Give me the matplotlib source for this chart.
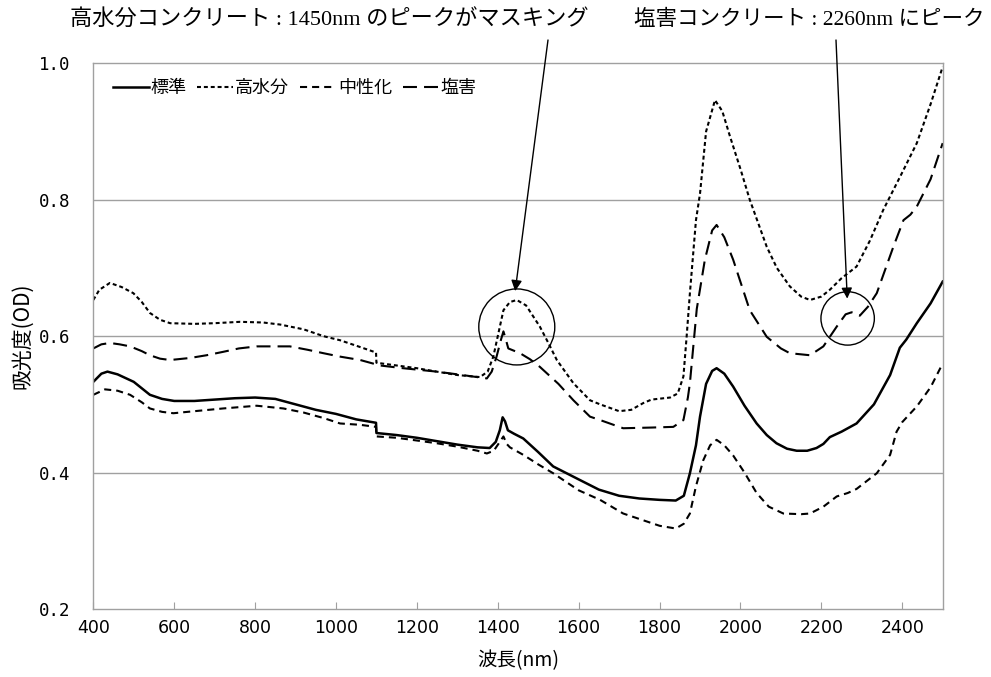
import matplotlib
matplotlib.use("Agg")
import matplotlib.pyplot as plt
from matplotlib.patches import Ellipse

# ---------------- data ----------------
wl_std = [400, 420, 435, 460, 500, 540, 570, 600, 650, 700, 750, 800, 850, 900, 950, 1000, 1050, 1099, 1100,
          1150, 1200, 1250, 1300, 1350, 1380, 1395, 1405, 1412, 1418, 1425, 1440, 1463, 1500, 1537, 1600, 1650,
          1700, 1750, 1800, 1840, 1860, 1875, 1890, 1900, 1915, 1930, 1941, 1960, 1982, 2010, 2040, 2065, 2089,
          2115, 2139, 2165, 2188, 2205, 2221, 2250, 2287, 2330, 2370, 2394, 2410, 2436, 2470, 2500]
ab_std = [0.533, 0.545, 0.548, 0.544, 0.533, 0.514, 0.508, 0.505, 0.505, 0.507, 0.509, 0.510, 0.508, 0.500, 0.492,
          0.486, 0.478, 0.473, 0.458, 0.455, 0.451, 0.446, 0.441, 0.437, 0.436, 0.445, 0.462, 0.481, 0.475, 0.462,
          0.457, 0.450, 0.430, 0.409, 0.390, 0.375, 0.366, 0.362, 0.360, 0.359, 0.366, 0.399, 0.440, 0.482, 0.530,
          0.549, 0.553, 0.545, 0.526, 0.498, 0.472, 0.455, 0.443, 0.435, 0.432, 0.432, 0.436, 0.442, 0.452, 0.460,
          0.472, 0.500, 0.543, 0.583, 0.595, 0.619, 0.648, 0.680]

wl_hi = [400, 415, 441, 470, 499, 520, 540, 565, 590, 650, 700, 763, 820, 862, 920, 969, 1010, 1050, 1099, 1100,
         1150, 1200, 1249, 1300, 1356, 1375, 1389, 1400, 1414, 1430, 1447, 1470, 1504, 1525, 1546, 1587, 1628, 1653,
         1700, 1730, 1760, 1780, 1826, 1845, 1859, 1867, 1875, 1890, 1900, 1915, 1937, 1955, 1974, 2000, 2023, 2065,
         2090, 2122, 2150, 2172, 2200, 2221, 2250, 2287, 2320, 2353, 2400, 2436, 2470, 2500]
ab_hi = [0.653, 0.668, 0.678, 0.672, 0.663, 0.650, 0.634, 0.624, 0.619, 0.618, 0.619, 0.621, 0.620, 0.617, 0.610,
         0.600, 0.594, 0.586, 0.576, 0.561, 0.557, 0.553, 0.548, 0.543, 0.540, 0.548, 0.570, 0.600, 0.638, 0.650,
         0.653, 0.645, 0.614, 0.590, 0.565, 0.531, 0.506, 0.500, 0.490, 0.492, 0.502, 0.507, 0.510, 0.516, 0.541,
         0.600, 0.663, 0.770, 0.809, 0.900, 0.946, 0.930, 0.893, 0.845, 0.800, 0.731, 0.700, 0.673, 0.658, 0.653,
         0.658, 0.668, 0.685, 0.702, 0.740, 0.785, 0.840, 0.883, 0.940, 0.995]

wl_neu = [400, 429, 460, 491, 520, 540, 570, 598, 650, 721, 804, 870, 920, 969, 1010, 1060, 1099, 1100, 1150, 1200,
          1249, 1300, 1350, 1373, 1390, 1405, 1414, 1422, 1430, 1463, 1500, 1537, 1600, 1653, 1710, 1760, 1800, 1840,
          1860, 1875, 1890, 1908, 1925, 1941, 1960, 1982, 2010, 2040, 2070, 2106, 2150, 2172, 2205, 2238, 2265, 2287,
          2337, 2370, 2386, 2400, 2436, 2470, 2500]
ab_neu = [0.514, 0.522, 0.520, 0.514, 0.503, 0.494, 0.489, 0.487, 0.490, 0.494, 0.498, 0.494, 0.488, 0.480, 0.472,
          0.470, 0.467, 0.453, 0.451, 0.447, 0.443, 0.438, 0.432, 0.428, 0.432, 0.445, 0.453, 0.442, 0.437, 0.426,
          0.412, 0.399, 0.374, 0.360, 0.340, 0.330, 0.322, 0.318, 0.325, 0.340, 0.380, 0.418, 0.440, 0.448, 0.440,
          0.425, 0.400, 0.370, 0.350, 0.340, 0.339, 0.340, 0.350, 0.365, 0.370, 0.376, 0.399, 0.426, 0.460, 0.474,
          0.497, 0.525, 0.560]

wl_salt = [400, 420, 441, 465, 491, 520, 540, 565, 590, 639, 680, 721, 760, 804, 886, 930, 969, 1010, 1060, 1109,
           1166, 1249, 1300, 1373, 1385, 1397, 1408, 1414, 1420, 1426, 1455, 1480, 1504, 1550, 1587, 1628, 1653, 1710,
           1780, 1834, 1859, 1870, 1875, 1892, 1912, 1930, 1941, 1960, 1982, 2023, 2065, 2100, 2122, 2172, 2205, 2238,
           2260, 2275, 2295, 2315, 2337, 2378, 2403, 2420, 2436, 2470, 2500]
ab_salt = [0.582, 0.588, 0.590, 0.588, 0.585, 0.578, 0.572, 0.567, 0.565, 0.568, 0.572, 0.577, 0.582, 0.585, 0.585,
           0.580, 0.575, 0.570, 0.565, 0.557, 0.553, 0.548, 0.544, 0.538, 0.548, 0.570, 0.595, 0.607, 0.595, 0.582,
           0.575, 0.566, 0.555, 0.530, 0.506, 0.482, 0.477, 0.465, 0.466, 0.467, 0.477, 0.510, 0.531, 0.640, 0.712,
           0.755, 0.763, 0.745, 0.712, 0.638, 0.599, 0.582, 0.575, 0.572, 0.585, 0.614, 0.632, 0.635, 0.630, 0.643,
           0.663, 0.731, 0.770, 0.778, 0.790, 0.830, 0.883]

series_names = ["標準", "高水分", "中性化", "塩害"]
x_ticks = [400, 600, 800, 1000, 1200, 1400, 1600, 1800, 2000, 2200, 2400]
y_ticks = [0.2, 0.4, 0.6, 0.8, 1.0]
note1 = "高水分コンクリート : 1450nm のピークがマスキング"
note2 = "塩害コンクリート : 2260nm にピーク"

# ---------------- figure ----------------
plt.rcParams['font.family'] = ['Noto Sans CJK JP', 'DejaVu Sans']
W, H = 991, 677
fig = plt.figure(figsize=(W / 100, H / 100), dpi=100)
ax = fig.add_axes([93.3 / W, 1 - 609 / H, (942.7 - 93.3) / W, (609 - 63.3) / H])

lw = 1.5
ax.plot(wl_std, ab_std, color='black', lw=1.8, linestyle='-', label=series_names[0])
ax.plot(wl_hi, ab_hi, color='black', lw=lw, linestyle=(0, (1.9, 1.4)), label=series_names[1])
ax.plot(wl_neu, ab_neu, color='black', lw=lw, linestyle=(0, (3.4, 2.4)), label=series_names[2])
ax.plot(wl_salt, ab_salt, color='black', lw=lw, linestyle=(0, (6.7, 3.4)), label=series_names[3])

ax.set_xlim(400, 2500)
ax.set_ylim(0.2, 1.0)
ax.set_xticks(x_ticks)
ax.set_yticks(y_ticks)
ax.set_xticklabels([str(v) for v in x_ticks], family=['Liberation Sans Narrow', 'DejaVu Sans'], fontsize=12.5)
ax.set_yticklabels([f"{v:.1f}" for v in y_ticks], family='DejaVu Sans Mono', fontsize=12.5)
ax.tick_params(axis='x', direction='in', length=5, color='#a0a0a0', pad=7)
ax.tick_params(axis='y', direction='in', length=0, pad=16.5)

for v in y_ticks[1:-1]:
    ax.axhline(v, color='#a0a0a0', lw=1.0, zorder=0)
for s in ax.spines.values():
    s.set_color('#a0a0a0')
    s.set_linewidth(1.0)

ax.set_xlabel("波長(nm)", fontsize=14)
ax.set_ylabel("吸光度(OD)", fontsize=15)
ax.yaxis.set_label_coords(-0.071, 0.5)
ax.xaxis.set_label_coords(0.5, -0.075)

leg = ax.legend(loc='center left', bbox_to_anchor=(0.012, 0.955), ncol=4, frameon=False,
                handlelength=2.0, handletextpad=0.1, columnspacing=0.6, fontsize=13, borderpad=0)

# circles (true circles in pixels)
pxnm = (942.7 - 93.3) / 2100.0
pxv = (609 - 63.3) / 0.8
r1, r2 = 38.0, 26.7
ax.add_patch(Ellipse((1447, 0.6135), 2 * r1 / pxnm, 2 * r1 / pxv, fill=False, ec='black', lw=1.0))
ax.add_patch(Ellipse((2265, 0.626), 2 * r2 / pxnm, 2 * r2 / pxv, fill=False, ec='black', lw=1.0))

# annotations
serif = ['Liberation Serif', 'Noto Sans CJK JP']
fig.text(329 / W, 1 - 20 / H, note1, ha='center', va='center', fontsize=16, family=serif)
fig.text(809 / W, 1 - 20 / H, note2, ha='center', va='center', fontsize=15.5, family=serif)
ap = dict(arrowstyle='-|>', color='black', lw=1.0, mutation_scale=16, shrinkA=0, shrinkB=0)
ax.annotate("", xy=(1443, 0.666), xytext=(548 / W, 1 - 40 / H), textcoords='figure fraction',
            arrowprops=ap, annotation_clip=False)
ax.annotate("", xy=(2264, 0.655), xytext=(836 / W, 1 - 40 / H), textcoords='figure fraction',
            arrowprops=ap, annotation_clip=False)

fig.savefig("out.png", dpi=100)
